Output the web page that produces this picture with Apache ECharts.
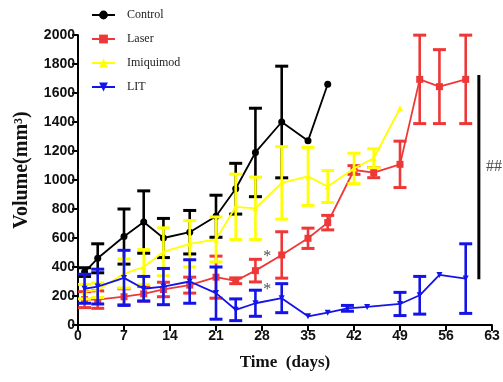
<!DOCTYPE html>
<html lang="en">
  <head>
    <meta charset="UTF-8" />
    <title>Tumor volume</title>
    <script src="https://cdn.jsdelivr.net/npm/echarts@6/dist/echarts.min.js"></script>
    <style>
      html, body { margin: 0; padding: 0; background: #fff; }
      #main { width: 503px; height: 382px; }
    </style>
  </head>
  <body>
    <div id="main"></div>
    <script>
      // values (mm3), error = +/- half-bar
      var ctrlDays = [1, 3, 7, 10, 13, 17, 21, 24, 27, 31, 35, 38];
      var ctrlVals = [365, 460, 610, 710, 600, 640, 750, 940, 1190, 1400, 1270, 1660];
      var ctrlErr = [30, 100, 190, 215, 135, 150, 145, 175, 305, 385, 0, 0];

      var laserDays = [1, 3, 7, 10, 13, 17, 21, 24, 27, 31, 35, 38, 42, 45, 49, 52, 55, 59];
      var laserVals = [175, 175, 195, 215, 245, 275, 330, 305, 375, 483, 598, 706, 1069, 1051, 1108, 1694, 1644, 1694];
      var laserErr = [55, 60, 55, 50, 50, 55, 145, 20, 78, 160, 70, 50, 30, 35, 160, 305, 255, 305];

      var imiqDays = [1, 3, 7, 10, 13, 17, 21, 24, 27, 31, 35, 38, 42, 45, 49];
      var imiqVals = [230, 240, 355, 400, 505, 560, 590, 815, 805, 980, 1025, 955, 1080, 1150, 1495];
      var imiqErr = [50, 50, 100, 120, 165, 160, 155, 225, 215, 250, 200, 110, 105, 65, 0];

      var litDays = [1, 3, 7, 10, 13, 17, 21, 24, 27, 31, 35, 38, 41, 44, 49, 52, 55, 59];
      var litVals = [250, 265, 325, 250, 265, 300, 220, 105, 150, 185, 60, 85, 115, 125, 145, 205, 345, 320];
      var litErr = [100, 120, 190, 85, 125, 150, 180, 75, 90, 100, 0, 0, 20, 0, 80, 130, 0, 240];

      var xTicks = [0, 7, 14, 21, 28, 35, 42, 49, 56, 63];

      // significance marks
      var noteDays = [28.2, 28.2, 62.1];
      var noteVals = [470, 240, 1090];
      var noteTexts = ["*", "*", "##"];
      var bracketDay = 61;
      var bracketVals = [315, 1725];

      var chart = echarts.init(document.getElementById("main"));

      function pts(days, vals) {
        return days.map(function (d, i) { return [d, vals[i]]; });
      }
      function errPts(days, vals, errs) {
        var out = [];
        days.forEach(function (d, i) {
          if (errs[i] > 0) out.push([d, vals[i] - errs[i], vals[i] + errs[i]]);
        });
        return out;
      }

      function errRender(color, capW) {
        return function (params, api) {
          var x = api.value(0);
          var lo = api.coord([x, api.value(1)]);
          var hi = api.coord([x, api.value(2)]);
          var h = capW / 2;
          return {
            type: "group",
            children: [
              { type: "line", shape: { x1: lo[0], y1: lo[1], x2: hi[0], y2: hi[1] }, style: { stroke: color, lineWidth: 2.6 } },
              { type: "line", shape: { x1: hi[0] - h, y1: hi[1], x2: hi[0] + h, y2: hi[1] }, style: { stroke: color, lineWidth: 3 } },
              { type: "line", shape: { x1: lo[0] - h, y1: lo[1], x2: lo[0] + h, y2: lo[1] }, style: { stroke: color, lineWidth: 3 } }
            ]
          };
        };
      }

      var groups = [
        { name: "Control", days: ctrlDays, vals: ctrlVals, err: ctrlErr, color: "#000000", symbol: "circle", size: 7, rot: 0 },
        { name: "Laser", days: laserDays, vals: laserVals, err: laserErr, color: "#ee3838", symbol: "rect", size: 7, rot: 0 },
        { name: "Imiquimod", days: imiqDays, vals: imiqVals, err: imiqErr, color: "#ffff00", symbol: "triangle", size: 6, rot: 0 },
        { name: "LIT", days: litDays, vals: litVals, err: litErr, color: "#1414e8", symbol: "triangle", size: 6, rot: 180 }
      ];

      var series = [];
      groups.forEach(function (g, k) {
        series.push({
          name: g.name + " err",
          type: "custom",
          renderItem: errRender(g.color, 13),
          encode: { x: 0, y: [1, 2] },
          data: errPts(g.days, g.vals, g.err),
          z: 2 + k * 2,
          silent: true
        });
        series.push({
          name: g.name,
          type: "line",
          data: pts(g.days, g.vals),
          symbol: g.symbol,
          symbolSize: g.size,
          symbolRotate: g.rot,
          showAllSymbol: true,
          lineStyle: { color: g.color, width: 1.8 },
          itemStyle: { color: g.color },
          z: 3 + k * 2
        });
      });

      series.push({
        name: "bracket",
        type: "line",
        data: bracketVals.map(function (v) { return [bracketDay, v]; }),
        symbol: "none",
        lineStyle: { color: "#000", width: 3 },
        z: 12
      });

      series.push({
        name: "notes",
        type: "scatter",
        symbolSize: 0,
        data: noteDays.map(function (d, i) { return { value: [d, noteVals[i]], text: noteTexts[i] }; }),
        label: {
          show: true,
          position: "right",
          distance: 0,
          formatter: function (p) { return p.data.text; },
          fontFamily: "Liberation Serif",
          fontSize: 16,
          color: "#222"
        },
        z: 13
      });

      var option = {
        animation: false,
        backgroundColor: "#fff",
        grid: { left: 78, right: 11, top: 35, bottom: 57, containLabel: false },
        legend: {
          data: groups.map(function (g) { return g.name; }),
          orient: "vertical",
          left: 86,
          top: 4,
          itemWidth: 23,
          itemHeight: 11,
          itemGap: 12,
          textStyle: { fontFamily: "Liberation Serif", fontSize: 12, color: "#222", padding: [0, 0, 0, 7] }
        },
        xAxis: {
          type: "value",
          min: xTicks[0],
          max: xTicks[xTicks.length - 1],
          interval: 7,
          name: "Time  (days)",
          nameLocation: "middle",
          nameGap: 29,
          nameTextStyle: { fontFamily: "Liberation Serif", fontWeight: "bold", fontSize: 17, color: "#111" },
          axisLine: { lineStyle: { color: "#000", width: 2 } },
          axisTick: { show: true, length: 6, lineStyle: { color: "#000", width: 2 } },
          axisLabel: { fontFamily: "Liberation Sans", fontWeight: "bold", fontSize: 14, color: "#111", margin: 4 },
          splitLine: { show: false }
        },
        yAxis: {
          type: "value",
          min: 0,
          max: 2000,
          interval: 200,
          name: "Volume(mm³)",
          nameLocation: "middle",
          nameGap: 46,
          nameTextStyle: { fontFamily: "Liberation Serif", fontWeight: "bold", fontSize: 20, color: "#111", padding: [0, 0, 0, 20] },
          axisLine: { show: true, lineStyle: { color: "#000", width: 2 } },
          axisTick: { show: true, length: 6, lineStyle: { color: "#000", width: 2 } },
          axisLabel: {
            fontFamily: "Liberation Sans", fontWeight: "bold", fontSize: 14, color: "#111", margin: 3,
            formatter: function (v) { return String(v); }
          },
          splitLine: { show: false }
        },
        series: series
      };

      chart.setOption(option);
    </script>
  </body>
</html>
